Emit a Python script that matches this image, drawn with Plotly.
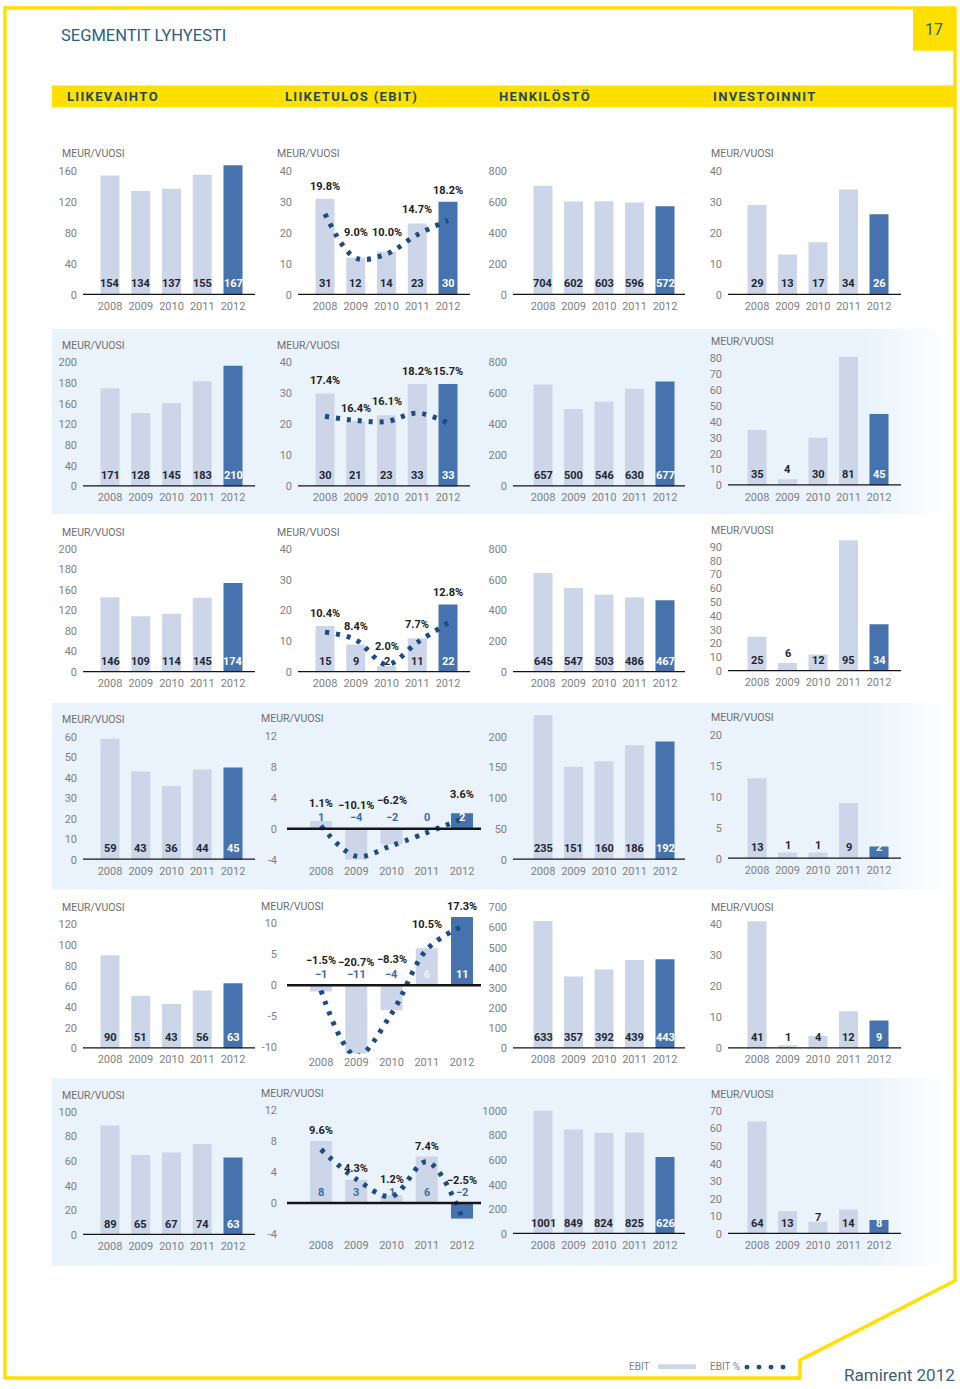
import plotly.graph_objects as go

W, H = 960, 1389
YEARS = ["2008", "2009", "2010", "2011", "2012"]

# ---------------- data (one list per segment row, top to bottom) ----------------
LIIKEVAIHTO = [
    [154, 134, 137, 155, 167],
    [171, 128, 145, 183, 210],
    [146, 109, 114, 145, 174],
    [59, 43, 36, 44, 45],
    [90, 51, 43, 56, 63],
    [89, 65, 67, 74, 63],
]
EBIT = [
    [31, 12, 14, 23, 30],
    [30, 21, 23, 33, 33],
    [15, 9, 2, 11, 22],
    [1, -4, -2, 0, 2],
    [-1, -11, -4, 6, 11],
    [8, 3, 1, 6, -2],
]
EBIT_PCT = [
    [19.8, 9.0, 10.0, 14.7, 18.2],
    [17.4, 16.4, 16.1, 18.2, 15.7],
    [10.4, 8.4, 2.0, 7.7, 12.8],
    [1.1, -10.1, -6.2, None, 3.6],
    [-1.5, -20.7, -8.3, 10.5, 17.3],
    [9.6, 4.3, 1.2, 7.4, -2.5],
]
HENKILOSTO = [
    [704, 602, 603, 596, 572],
    [657, 500, 546, 630, 677],
    [645, 547, 503, 486, 467],
    [235, 151, 160, 186, 192],
    [633, 357, 392, 439, 443],
    [1001, 849, 824, 825, 626],
]
INVESTOINNIT = [
    [29, 13, 17, 34, 26],
    [35, 4, 30, 81, 45],
    [25, 6, 12, 95, 34],
    [13, 1, 1, 9, 2],
    [41, 1, 4, 12, 9],
    [64, 13, 7, 14, 8],
]

# tick labels
LV_TICKTEXT = [
    ["0", "40", "80", "120", "160"],
    ["0", "40", "80", "120", "160", "180", "200"],
    ["0", "40", "80", "120", "160", "180", "200"],
    ["0", "10", "20", "30", "40", "50", "60"],
    ["0", "20", "40", "60", "80", "100", "120"],
    ["0", "20", "40", "60", "80", "100"],
]
LV_TICK_STEP = [40, 36, 40, 10, 20, 20]  # printed labels are evenly spaced in the source
EBIT_TICKS = [
    [0, 10, 20, 30, 40], [0, 10, 20, 30, 40], [0, 10, 20, 30, 40],
    [-4, 0, 4, 8, 12], [-10, -5, 0, 5, 10], [-4, 0, 4, 8, 12],
]
HENK_TICKS = [
    [0, 200, 400, 600, 800], [0, 200, 400, 600, 800], [0, 200, 400, 600, 800],
    [0, 50, 100, 150, 200], [0, 100, 200, 300, 400, 500, 600, 700],
    [0, 200, 400, 600, 800, 1000],
]
INV_TICKS = [
    [0, 10, 20, 30, 40], [0, 10, 20, 30, 40, 50, 60, 70, 80],
    [0, 10, 20, 30, 40, 50, 60, 70, 80, 90], [0, 5, 10, 15, 20],
    [0, 10, 20, 30, 40], [0, 10, 20, 30, 40, 50, 60, 70],
]
HEADERS = ["LIIKEVAIHTO", "LIIKETULOS (EBIT)", "HENKILÖSTÖ", "INVESTOINNIT"]
UNIT = "MEUR/VUOSI"

# ---------------- style / layout ----------------
FONT = "Roboto"
LIGHT = "#cdd6e8"
DARK = "#4673ad"
DOT = "#1b4c84"
YELLOW = "#ffe000"
TXT_DARK = "#1c2734"
TXT_BLUE = "#3a6da5"
GRAY = "#7f7f7f"
BAND = "#eaf3fb"

# column geometry in px: axis-line left, right, centre of first bar, centre of last bar, bar width
COLS = [(83, 255, 110, 233, 19), (298, 470, 325, 448, 19), (513, 685, 543, 665, 19), (728, 901, 757, 879, 19)]
COL2_LOW = (287, 481, 321, 462, 22)
# (top tick px, bottom tick px) per row/col
ROW_Y = [
    [(169, 294), (169, 294), (169, 294), (169, 294)],
    [(362, 487), (362, 487), (362, 487), (358, 486)],
    [(550, 674), (550, 674), (550, 674), (548, 673)],
    [(739, 863), (738, 863), (739, 863), (737, 862)],
    [(928, 1053), (927, 1052), (911, 1053), (928, 1053)],
    [(1117, 1241), (1115, 1240), (1116, 1240), (1116, 1240)],
]
PCT_SCALE = [1.32, 1.3, 1.25, 0.35, 0.55, 0.72]
PCT_SHIFT = [
    [12, 25, 19, 14, 11],
    [13, 13, 14, 13, 13],
    [12, 18, 19, 14, 12],
    [18, 23, 28, 0, 19],
    [25, 23, 26, 24, 11],
    [10, 11, 16, 10, 23],
]
LABEL_LIFT = {(1, 3, 1): 5, (2, 3, 1): 7, (5, 3, 2): 6, (3, 3, 1): 2, (3, 3, 2): 2}
EBIT_LABEL_COLORS = {
    3: [TXT_BLUE, TXT_BLUE, TXT_BLUE, TXT_BLUE, "white"],
    4: [TXT_BLUE, TXT_BLUE, TXT_BLUE, "#eef3fa", "white"],
    5: [TXT_BLUE, TXT_BLUE, TXT_BLUE, TXT_BLUE, TXT_BLUE],
}
BANDS = [(328, 515), (705, 893), (1083, 1272)]


def px_x(px):
    return px / W


def px_y(py):
    return 1 - py / H


def fmt_num(v):
    return ("\u2212" + str(abs(v))) if v < 0 else str(v)


def fmt_pct(p):
    s = f"{abs(p):.1f}%"
    return ("\u2212" + s) if p < 0 else s


def spaced(s):
    return "\u200a".join(s)


fig = go.Figure()
layout = {}
annotations = []
shapes = []

# background bands (with fade to the right)
for (t, b) in BANDS:
    shapes.append(dict(type="rect", xref="paper", yref="paper", layer="below",
                       x0=px_x(52), x1=px_x(870), y0=px_y(b), y1=px_y(t),
                       fillcolor=BAND, line=dict(width=0)))
    steps = 16
    for k in range(steps):
        x0 = 870 + k * 5
        shapes.append(dict(type="rect", xref="paper", yref="paper", layer="below",
                           x0=px_x(x0), x1=px_x(x0 + 5), y0=px_y(b), y1=px_y(t),
                           fillcolor=BAND, opacity=1 - (k + 1) / (steps + 1), line=dict(width=0)))

overlay_idx = 24
for r in range(6):
    for c in range(4):
        n = r * 4 + c + 1
        xs = "x" if n == 1 else f"x{n}"
        ys = "y" if n == 1 else f"y{n}"
        vals = [LIIKEVAIHTO, EBIT, HENKILOSTO, INVESTOINNIT][c][r]
        if c == 0:
            ticktext = LV_TICKTEXT[r]
            tickpos = [i * LV_TICK_STEP[r] for i in range(len(ticktext))]
        else:
            tv = [None, EBIT_TICKS, HENK_TICKS, INV_TICKS][c][r]
            tickpos = tv
            ticktext = [str(t) for t in tv]
        L, R, c0, c4, bw = COL2_LOW if (c == 1 and r >= 3) else COLS[c]
        ytop, ybot = ROW_Y[r][c]
        tmax, tmin = max(tickpos), min(tickpos)
        ppu = (ybot - ytop) / (tmax - tmin)
        vmax = max(tmax, max(vals))
        vmin = min(tmin, min(vals))
        dom_top = ybot - (vmax - tmin) * ppu - 3
        dom_bot = ybot + (tmin - vmin) * ppu
        yr = [tmin - (dom_bot - ybot) / ppu, tmin + (ybot - dom_top) / ppu]
        ux = (c4 - c0) / 4
        xr = [-(c0 - L) / ux, 4 + (R - c4) / ux]

        xkey = "xaxis" if n == 1 else f"xaxis{n}"
        ykey = "yaxis" if n == 1 else f"yaxis{n}"
        layout[xkey] = dict(domain=[px_x(L), px_x(R)], range=xr, anchor=ys,
                            tickmode="array", tickvals=list(range(5)), ticktext=YEARS,
                            showgrid=False, zeroline=False, showline=False, ticks="",
                            tickfont=dict(family=FONT, size=11, color=GRAY),
                            ticklabelstandoff=max(0, int(round(ybot + 12 - dom_bot - 9))))
        layout[ykey] = dict(domain=[px_y(dom_bot), px_y(dom_top)], range=yr, anchor=xs,
                            tickmode="array", tickvals=tickpos, ticktext=ticktext,
                            showgrid=False, zeroline=False, showline=False, ticks="",
                            tickfont=dict(family=FONT, size=11, color=GRAY),
                            ticklabelstandoff=9 if (c == 1 and r >= 3) else 5)

        fig.add_trace(go.Bar(x=list(range(5)), y=vals, width=bw / ux,
                             marker=dict(color=[LIGHT] * 4 + [DARK], line=dict(width=0)),
                             xaxis=xs, yaxis=ys, showlegend=False, hoverinfo="skip"))

        shapes.append(dict(type="line", xref=f"{xs} domain", yref=ys, x0=0, x1=1, y0=0, y1=0,
                           line=dict(color="#151515", width=2.5)))

        # value labels
        for i, v in enumerate(vals):
            if c == 1 and r in EBIT_LABEL_COLORS:
                col = EBIT_LABEL_COLORS[r][i]
            else:
                col = "white" if i == 4 else TXT_DARK
            lift = LABEL_LIFT.get((r, c, i), 0)
            annotations.append(dict(x=i, y=0, xref=xs, yref=ys, text=f"<b>{fmt_num(v)}</b>",
                                    showarrow=False, yanchor="middle", yshift=11 + lift,
                                    font=dict(family=FONT, size=11, color=col)))

        # EBIT % dotted curve and labels
        if c == 1:
            overlay_idx += 1
            oy = f"y{overlay_idx}"
            sc = PCT_SCALE[r]
            layout[f"yaxis{overlay_idx}"] = dict(overlaying=ys, anchor=xs, range=[yr[0] / sc, yr[1] / sc],
                                                 visible=False)
            fig.add_trace(go.Scatter(x=list(range(5)), y=EBIT_PCT[r], mode="lines", connectgaps=True,
                                     line=dict(shape="spline", smoothing=1.0, color=DOT, width=5,
                                               dash="4px,7px"),
                                     xaxis=xs, yaxis=oy, showlegend=False, hoverinfo="skip"))
            for i, p in enumerate(EBIT_PCT[r]):
                if p is None:
                    continue
                annotations.append(dict(x=i, y=max(vals[i], 0), xref=xs, yref=ys, text=f"<b>{fmt_pct(p)}</b>",
                                        showarrow=False, yanchor="middle", yshift=PCT_SHIFT[r][i],
                                        font=dict(family=FONT, size=11, color="#222222")))

        # unit label
        if c != 2:
            ux_px = {0: 60, 1: (259 if r >= 3 else 275), 3: 709}[c]
            annotations.append(dict(x=px_x(ux_px), y=px_y(ytop - 17), xref="paper", yref="paper",
                                    text=UNIT, showarrow=False, xanchor="left", yanchor="middle",
                                    font=dict(family=FONT, size=10.5, color="#6e6e6e")))

# page frame
frame_pts = [(5, 5), (955, 5), (955, 1287), (800, 1367), (800, 1385), (5, 1385)]
path = "M " + " L ".join(f"{px_x(x):.5f},{px_y(y):.5f}" for x, y in frame_pts) + " Z"
shapes.append(dict(type="path", xref="paper", yref="paper", path=path,
                   line=dict(color=YELLOW, width=3.5), fillcolor="rgba(0,0,0,0)", layer="below"))
# header band and page number box
shapes.append(dict(type="rect", xref="paper", yref="paper", x0=px_x(52), x1=px_x(956),
                   y0=px_y(105), y1=px_y(83), fillcolor=YELLOW, line=dict(width=0), layer="below"))
shapes.append(dict(type="rect", xref="paper", yref="paper", x0=px_x(913), x1=px_x(956),
                   y0=px_y(48), y1=px_y(4), fillcolor=YELLOW, line=dict(width=0), layer="below"))

annotations.append(dict(x=px_x(934), y=px_y(27), xref="paper", yref="paper", text="17",
                        showarrow=False, xanchor="center", yanchor="middle",
                        font=dict(family=FONT, size=16, color="#2e5d88")))
annotations.append(dict(x=px_x(59), y=px_y(33), xref="paper", yref="paper", text="SEGMENTIT LYHYESTI",
                        showarrow=False, xanchor="left", yanchor="middle",
                        font=dict(family=FONT, size=16.5, color="#2e5d88")))
for hx, htxt in zip([65, 283, 497, 711], HEADERS):
    annotations.append(dict(x=px_x(hx), y=px_y(94), xref="paper", yref="paper", text=f"<b>{spaced(htxt)}</b>",
                            showarrow=False, xanchor="left", yanchor="middle",
                            font=dict(family=FONT, size=13, color="#1f4a5c")))

# legend
annotations.append(dict(x=px_x(651), y=px_y(1373), xref="paper", yref="paper", text="EBIT",
                        showarrow=False, xanchor="right", yanchor="middle",
                        font=dict(family=FONT, size=10, color=GRAY)))
shapes.append(dict(type="rect", xref="paper", yref="paper", x0=px_x(658), x1=px_x(696),
                   y0=px_y(1376), y1=px_y(1371), fillcolor=LIGHT, line=dict(width=0)))
annotations.append(dict(x=px_x(708), y=px_y(1373), xref="paper", yref="paper", text="EBIT %",
                        showarrow=False, xanchor="left", yanchor="middle",
                        font=dict(family=FONT, size=10, color=GRAY)))
for dx in [747, 759, 771, 783]:
    shapes.append(dict(type="circle", xref="paper", yref="paper", x0=px_x(dx - 2.5), x1=px_x(dx + 2.5),
                       y0=px_y(1376.5), y1=px_y(1371.5), fillcolor=DOT, line=dict(width=0)))
annotations.append(dict(x=px_x(957), y=px_y(1382), xref="paper", yref="paper", text="Ramirent 2012",
                        showarrow=False, xanchor="right", yanchor="middle",
                        font=dict(family=FONT, size=17, color="#3b5f80")))

fig.update_layout(width=W, height=H, margin=dict(l=0, r=0, t=0, b=0),
                  paper_bgcolor="white", plot_bgcolor="rgba(0,0,0,0)",
                  barmode="overlay", showlegend=False,
                  annotations=annotations, shapes=shapes, **layout)
fig.write_html(
    "out.html", config={"displayModeBar": False},
    post_script=(
        "var s=document.createElement('style');"
        "s.textContent='html,body{margin:0!important;padding:0!important;overflow:hidden!important;"
        "height:1389px!important;}';"
        "document.head.appendChild(s);"
    ),
)
